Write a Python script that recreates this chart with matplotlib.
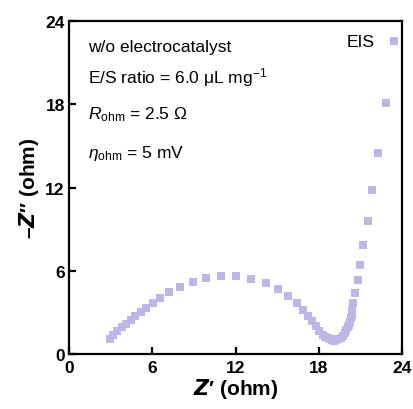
import numpy as np
import matplotlib.pyplot as plt

plt.rcParams['font.family'] = ['Liberation Sans', 'DejaVu Sans']
plt.rcParams['mathtext.fontset'] = 'custom'
plt.rcParams['mathtext.rm'] = 'Liberation Sans'
plt.rcParams['mathtext.it'] = 'Liberation Sans:italic'
plt.rcParams['mathtext.bf'] = 'Liberation Sans:bold'

# Nyquist data
z_real = [2.95, 3.20, 3.48, 3.80, 4.11, 4.44, 4.78, 5.17, 5.55, 6.03, 6.56,
          7.23, 8.00, 8.91, 9.87, 10.93, 12.04, 13.12, 14.17, 15.04, 15.81,
          16.41, 16.84, 17.20, 17.49, 17.78, 18.04, 18.33, 18.48, 18.64,
          18.78, 18.93, 19.08, 19.24, 19.42, 19.60, 19.75, 19.89, 20.00,
          20.08, 20.17, 20.25, 20.31, 20.37, 20.43, 20.49, 20.61, 20.80,
          20.97, 21.21, 21.52, 21.86, 22.30, 22.82, 23.42]
z_imag = [1.08, 1.37, 1.66, 1.92, 2.19, 2.45, 2.71, 3.00, 3.32, 3.68, 4.04,
          4.44, 4.85, 5.21, 5.45, 5.60, 5.60, 5.41, 5.09, 4.66, 4.16,
          3.68, 3.19, 2.76, 2.35, 1.99, 1.66, 1.37, 1.25, 1.13,
          1.05, 0.99, 0.97, 0.99, 1.07, 1.18, 1.33, 1.51, 1.70,
          1.92, 2.12, 2.33, 2.57, 2.81, 3.20, 3.68, 4.40, 5.31,
          6.44, 7.86, 9.61, 11.82, 14.53, 18.09, 22.54]

ticks = [0, 6, 12, 18, 24]

fig = plt.figure(figsize=(4.14, 4.10), dpi=100)
ax = fig.add_axes([0.1667, 0.134, 0.8043, 0.812])

ax.plot(z_real, z_imag, 's', color='#bdb6e8', markersize=5.2, markeredgewidth=0,
        clip_on=False)

ax.set_xlim(0, 24)
ax.set_ylim(0, 24)
ax.set_xticks(ticks)
ax.set_yticks(ticks)
for s in ax.spines.values():
    s.set_linewidth(1.6)
ax.tick_params(direction='in', length=5, width=1.6, labelsize=12.5, pad=4)
ax.tick_params(axis='y', pad=3)
for lab in ax.get_xticklabels() + ax.get_yticklabels():
    lab.set_fontweight('bold')

ax.set_xlabel(r"$\boldsymbol{Z}$′ (ohm)", fontsize=15, fontweight='bold', labelpad=1)
ax.set_ylabel(r"–$\boldsymbol{Z}$″ (ohm)", fontsize=15, fontweight='bold', labelpad=3)

txt = dict(transform=ax.transAxes, fontsize=12.5, va='baseline')
ax.text(0.057, 0.910, "w/o electrocatalyst", **txt)
ax.text(0.057, 0.817, r"E/S ratio = 6.0 μL mg$^{-1}$", **txt)
ax.text(0.057, 0.709, r"$R_{\rm ohm}$ = 2.5 Ω", **txt)
ax.text(0.057, 0.592, r"$\eta_{\rm ohm}$ = 5 mV", **txt)
ax.text(0.834, 0.925, "EIS", **txt)

fig.savefig("out.png", dpi=100)
